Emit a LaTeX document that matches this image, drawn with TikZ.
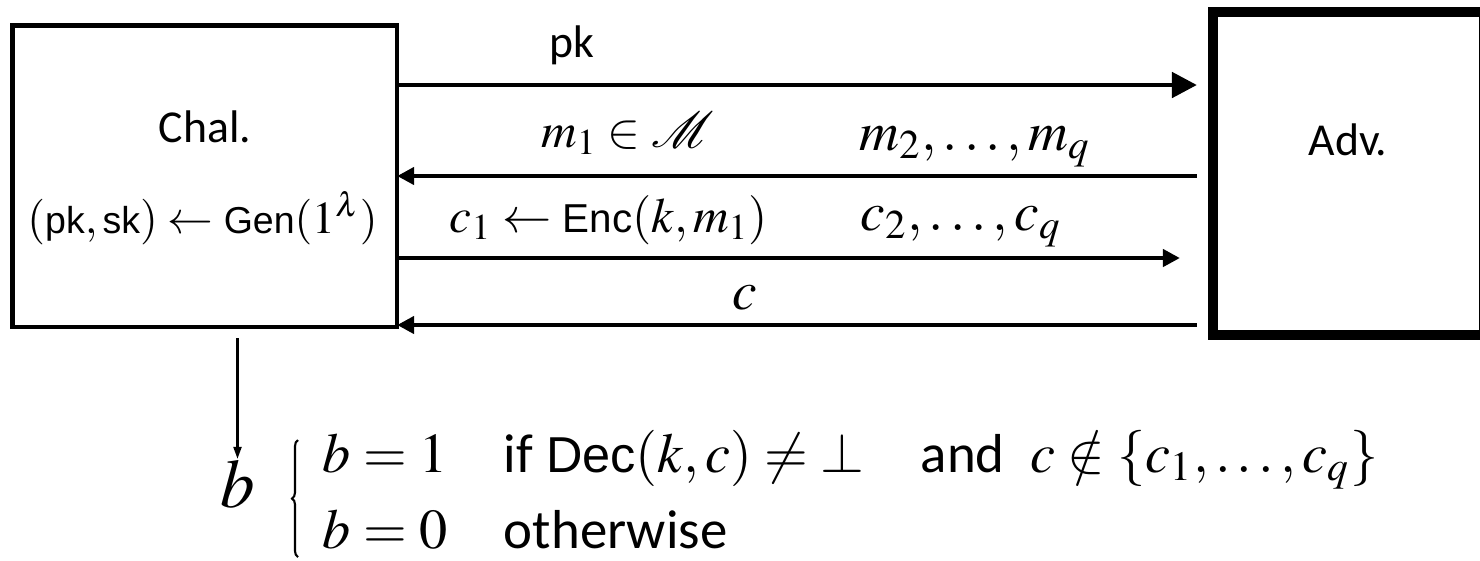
\documentclass[tikz,border=0pt]{standalone}
\usepackage{mathptmx}
\usepackage{mathrsfs}
\usepackage[no-math]{fontspec}
\setmainfont{Carlito}
\setsansfont{Liberation Sans}[Scale=0.82]
\usetikzlibrary{arrows.meta,decorations.pathreplacing}

% Algorithmennamen und Woerter in der Formel
\newcommand{\alg}[1]{\mbox{\sffamily #1}}
\newcommand{\wort}[1]{{\fontsize{15.6}{18}\selectfont #1}}

\begin{document}
\begin{tikzpicture}[x=0.01cm,y=-0.01cm,
  kasten/.style={draw,line width=1.3pt,outer sep=0pt,inner sep=0pt},
  pfeil/.style={line width=1.4pt,-{Triangle[length=0.17cm,width=0.17cm]}},
  titel/.style={anchor=base,font=\fontsize{13}{15}\selectfont},
  etikett/.style={anchor=base,font=\fontsize{14}{17}\selectfont},
  etikettgross/.style={anchor=base,font=\fontsize{15.7}{19}\selectfont},
  formel/.style={anchor=base west,inner sep=0pt,font=\fontsize{16}{19}\selectfont}]

% Rahmen
\useasboundingbox (0,0) rectangle (1480,560);

% Kaesten
\node[kasten,minimum width=3.845cm,minimum height=3.015cm] (chal) at (204.75,176.25) {};
\node[kasten,line width=2.85pt,minimum width=2.71cm,minimum height=3.23cm] (adv) at (1348.5,173.5) {};

% Zeilen der Nachrichten
\coordinate (z1) at (0,85);
\coordinate (z2) at (0,176);
\coordinate (z3) at (0,258);
\coordinate (z4) at (0,325);

% Pfeile
\draw[pfeil,-{Triangle[length=0.25cm,width=0.25cm]},shorten >=0.16cm] (chal.east |- z1) -- (adv.west |- z1);
\draw[pfeil,shorten <=0.16cm] (adv.west |- z2) -- (chal.east |- z2);
\draw[pfeil,shorten >=0.33cm] (chal.east |- z3) -- (adv.west |- z3);
\draw[pfeil,shorten <=0.16cm] (adv.west |- z4) -- (chal.east |- z4);

% Beschriftungen
\node[titel] (chaltext) at (205,142) {Chal.};
\node[etikett,font=\fontsize{13}{15}\selectfont] (gen) at (202.5,233) {$(\alg{pk},\alg{sk}) \leftarrow \alg{Gen}(1^\lambda)$};
\node[titel] (advtext) at (1348,155) {Adv.};
\node[titel] (pk) at (572,57) {pk};
\node[etikett] (m1) at (628,147) {$m_1 \in \mathscr{M}$};
\node[etikettgross] (mq) at (975,150) {$m_2, \ldots, m_q$};
\node[etikett] (c1) at (609,232) {$c_1 \leftarrow \alg{Enc}(k, m_1)$};
\node[etikettgross] (cq) at (961,230) {$c_2, \ldots, c_q$};
\node[etikettgross] (c) at (745,309) {$c$};

% Ausgabe b
\node[anchor=base,inner sep=0pt,font=\fontsize{19.6}{23}\selectfont] (bout) at (237.5,507) {$b$};
\draw[line width=0.6pt,-{Triangle[length=0.12cm,width=0.08cm]},shorten <=0.11cm] (chal.south -| bout) -- (bout.north);
\draw[line width=0.6pt,decorate,decoration={brace,amplitude=0.06cm}] (298,557) -- (298,440);
\node[formel] (fall1) at (322,472)
  {$b = 1$\quad\wort{if}\ $\mbox{\fontsize{17.5}{20}\selectfont\sffamily Dec}(k,c) \neq \bot$\quad\wort{and}\ \ $c \notin \{c_1, \ldots, c_q\}$};
\node[formel] (fall2) at (322,548) {$b = 0$\quad\wort{otherwise}};

\end{tikzpicture}
\end{document}
